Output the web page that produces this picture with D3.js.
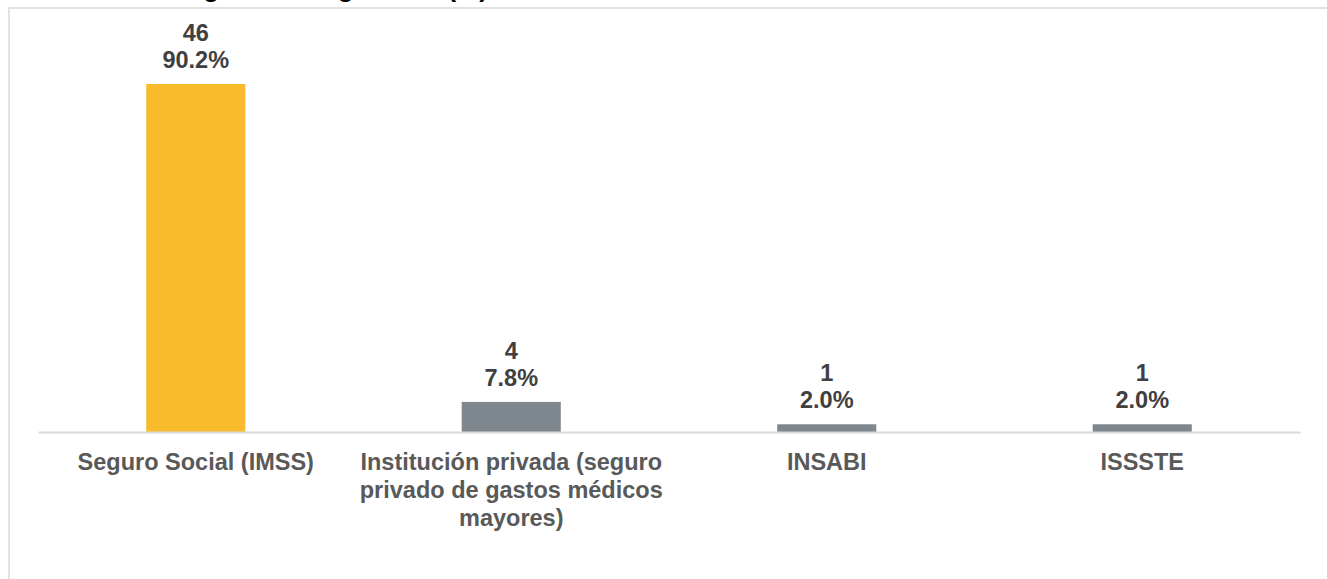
<!DOCTYPE html>
<html>
<head>
<meta charset="utf-8">
<script src="https://cdn.jsdelivr.net/npm/d3@7"></script>
<style>
  html, body { margin: 0; padding: 0; background: #ffffff; overflow: hidden; }
  svg { display: block; font-family: "Liberation Sans", Arial, sans-serif; }
</style>
</head>
<body>
<svg id="chart" width="1327" height="579"></svg>
<script>
// ---- data ----
const titleText = "Institución de origen de asegurados (%)";
const categories = ["Seguro Social (IMSS)", "Institución privada (seguro privado de gastos médicos mayores)", "INSABI", "ISSSTE"];
const categoryLines = [
  ["Seguro Social (IMSS)"],
  ["Institución privada (seguro", "privado de gastos médicos", "mayores)"],
  ["INSABI"],
  ["ISSSTE"]
];
const counts = [46, 4, 1, 1];
const percents = [90.2, 7.8, 2.0, 2.0];

// ---- layout ----
const svg = d3.select("#chart");
const left = 38, right = 1300, baseY = 432, topY = 46.2;

svg.append("rect").attr("x", 9).attr("y", 8).attr("width", 1400).attr("height", 700)
  .attr("fill", "#ffffff").attr("stroke", "#d9d9d9").attr("stroke-width", 1.5);

svg.append("text").attr("x", 488).attr("y", -3.5).attr("text-anchor", "end")
  .attr("font-size", 26).attr("font-weight", "bold").attr("fill", "#000000")
  .text(titleText);

const x = d3.scaleBand().domain(categories).range([left, right]).paddingInner(0.686).paddingOuter(0.343);
const y = d3.scaleLinear().domain([0, 100]).range([baseY, topY]);

const data = categories.map((c, i) => ({ c, n: counts[i], p: percents[i], lines: categoryLines[i], i }));

svg.selectAll("rect.bar").data(data).enter().append("rect")
  .attr("class", "bar")
  .attr("x", d => x(d.c))
  .attr("width", x.bandwidth())
  .attr("y", d => y(d.p))
  .attr("height", d => baseY - y(d.p))
  .attr("fill", d => d.i === 0 ? "#F9BB2B" : "#7E878D");

const xAxis = svg.append("g").attr("transform", `translate(0,${baseY})`)
  .call(d3.axisBottom(x).tickSize(0).tickSizeOuter(0).tickFormat(""));
xAxis.select(".domain").attr("stroke", "#d9d9d9").attr("stroke-width", 2);
xAxis.selectAll(".tick text").remove();
xAxis.selectAll(".tick").each(function(c, i) {
  const t = d3.select(this).append("text")
    .attr("text-anchor", "middle").attr("font-size", 23.5).attr("font-weight", "bold")
    .attr("fill", "#595959").attr("font-family", "'Liberation Sans', Arial, sans-serif");
  categoryLines[i].forEach((ln, k) => {
    t.append("tspan").attr("x", 0).attr("y", 37.5 + k * 28).text(ln);
  });
});

const lbl = svg.selectAll("g.lbl").data(data).enter().append("g").attr("class", "lbl")
  .attr("transform", d => `translate(${x(d.c) + x.bandwidth() / 2},${y(d.p)})`);
lbl.append("text").attr("text-anchor", "middle").attr("y", -43)
  .attr("font-size", 23.5).attr("font-weight", "bold").attr("fill", "#404040")
  .text(d => d.n);
lbl.append("text").attr("text-anchor", "middle").attr("y", -16)
  .attr("font-size", 23.5).attr("font-weight", "bold").attr("fill", "#404040")
  .text(d => d.p.toFixed(1) + "%");
</script>
</body>
</html>
